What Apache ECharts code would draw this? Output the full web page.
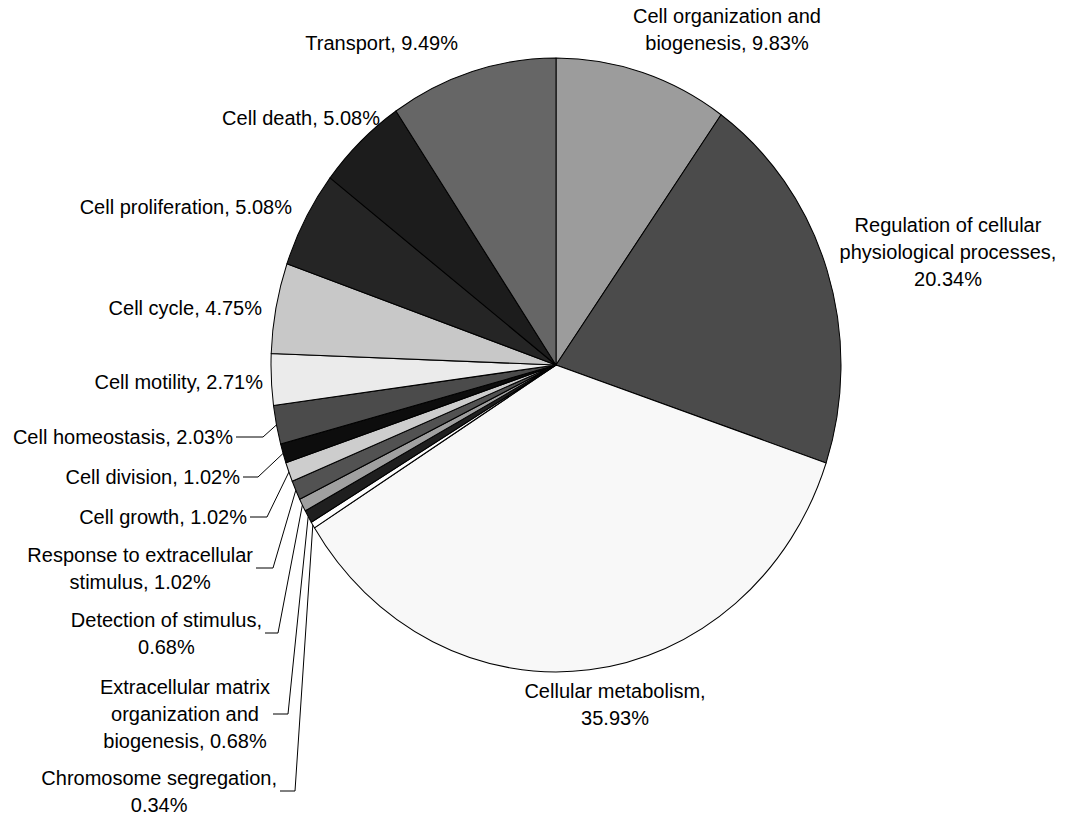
<!DOCTYPE html>
<html>
<head>
<meta charset="utf-8">
<script src="https://cdn.jsdelivr.net/npm/echarts@6/dist/echarts.min.js"></script>
<style>
html,body{margin:0;padding:0;background:#fff;}
#wrap{position:relative;width:1065px;height:822px;overflow:hidden;}
#pie,#labels{position:absolute;left:0;top:0;width:1065px;height:822px;}
#pie{transform-origin:556px 365px;transform:scaleY(1.077);}
</style>
</head>
<body>
<div id="wrap"><div id="pie"></div><div id="labels"></div></div>
<script>
// ---- data ----
const categories = ['Cell organization and biogenesis', 'Regulation of cellular physiological processes', 'Cellular metabolism', 'Chromosome segregation', 'Extracellular matrix organization and biogenesis', 'Detection of stimulus', 'Response to extracellular stimulus', 'Cell growth', 'Cell division', 'Cell homeostasis', 'Cell motility', 'Cell cycle', 'Cell proliferation', 'Cell death', 'Transport'];
const percents = [9.83, 20.34, 35.93, 0.34, 0.68, 0.68, 1.02, 1.02, 1.02, 2.03, 2.71, 4.75, 5.08, 5.08, 9.49];
const wrappedNames = ['Cell organization and\nbiogenesis', 'Regulation of cellular\nphysiological processes', 'Cellular metabolism', 'Chromosome segregation', 'Extracellular matrix\norganization and\nbiogenesis', 'Detection of stimulus', 'Response to extracellular\nstimulus', 'Cell growth', 'Cell division', 'Cell homeostasis', 'Cell motility', 'Cell cycle', 'Cell proliferation', 'Cell death', 'Transport'];
const valueOnNewLine = [false, true, true, true, false, true, false, false, false, false, false, false, false, false, false];

// ---- styles / layout ----
const sliceColors = ['#9c9c9c', '#4b4b4b', '#f8f8f8', '#ffffff', '#1f1f1f', '#a0a0a0', '#525252', '#cdcdcd', '#0d0d0d', '#4b4b4b', '#ebebeb', '#c8c8c8', '#252525', '#1c1c1c', '#666666'];
const CX = 556, CY = 365, RX = 285, RY = 307;
// [x, y, mode, bendX]  mode 'c' = x is block centre, 'r' = x is block right edge
const labelPlace = [
  [727, 29, 'c'], [948, 252, 'c'], [615, 704, 'c'],
  [277, 791, 'r', 295], [270, 714, 'r', 288], [262, 633, 'r', 278], [253, 568, 'r', 273],
  [247, 517, 'r', 267], [240, 477, 'r', 258], [233, 437, 'r', 263],
  [263, 382, 'r'], [262, 308, 'r'], [292, 207, 'r'], [380, 118, 'r'], [458, 43, 'r']
];

const pieData = categories.map((c, i) => ({ name: c, value: percents[i] }));
const labelData = categories.map((c, i) => ({
  name: c, value: percents[i],
  labelLine: { show: labelPlace[i][3] != null }
}));

const chartA = echarts.init(document.getElementById('pie'), null, { renderer: 'svg' });
chartA.setOption({
  animation: false,
  series: [{
    type: 'pie', center: [CX, CY], radius: RX, startAngle: 90, clockwise: true,
    avoidLabelOverlap: false, silent: true,
    data: pieData,
    itemStyle: { color: p => sliceColors[p.dataIndex], borderColor: '#000', borderWidth: 1 },
    label: { show: false }, labelLine: { show: false }
  }]
});

const chartB = echarts.init(document.getElementById('labels'), null, { renderer: 'svg' });
chartB.setOption({
  animation: false,
  series: [{
    type: 'pie', center: [CX, CY], radius: RX, startAngle: 90, clockwise: true,
    avoidLabelOverlap: false, silent: true,
    data: labelData,
    itemStyle: { color: 'rgba(0,0,0,0)', borderWidth: 0 },
    label: {
      show: true, position: 'outside',
      fontFamily: 'Liberation Sans, Arial, sans-serif', fontSize: 20, lineHeight: 27, color: '#000',
      formatter: p => wrappedNames[p.dataIndex] + ',' + (valueOnNewLine[p.dataIndex] ? '\n' : ' ') + p.value.toFixed(2) + '%'
    },
    labelLine: { show: true, length: 10, length2: 10, lineStyle: { color: '#000', width: 1 } },
    labelLayout: function (p) {
      const lp = labelPlace[p.dataIndex];
      const w = p.labelRect.width;
      const cxLabel = lp[2] === 'c' ? lp[0] : lp[0] - w / 2;
      const res = { x: cxLabel, y: lp[1], align: 'center', verticalAlign: 'middle' };
      if (lp[3] != null && p.labelLinePoints) {
        const e = p.labelLinePoints[0];
        const ex = e[0], ey = CY + (e[1] - CY) * (RY / RX);
        const right = cxLabel + w / 2;
        res.labelLinePoints = [[ex, ey], [lp[3], lp[1]], [right + 3, lp[1]]];
      }
      return res;
    }
  }]
});
</script>
</body>
</html>
